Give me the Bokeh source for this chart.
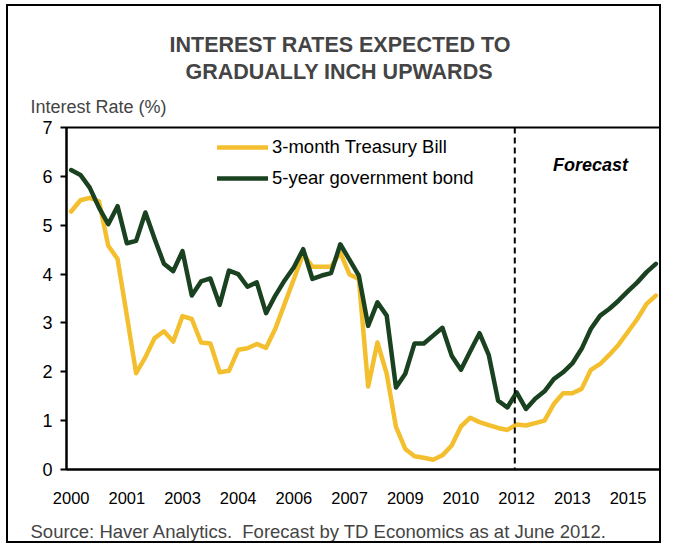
from bokeh.plotting import figure
from bokeh.models import Range1d, FixedTicker, Label, Span, Legend, LegendItem, ColumnDataSource, Title
from bokeh.embed import file_html
from bokeh.resources import INLINE

# ---------------- data (quarterly, 2000Q1 .. 2015Q4) ----------------
years = list(range(2000, 2016))
quarters = [f"{y}Q{q}" for y in years for q in range(1, 5)]

tbill_3m = [5.28, 5.51, 5.56, 5.49, 4.58, 4.31, 3.15, 1.97,
            2.30, 2.69, 2.83, 2.62, 3.14, 3.08, 2.60, 2.58,
            1.99, 2.02, 2.45, 2.48, 2.57, 2.49, 2.88, 3.39,
            3.90, 4.41, 4.15, 4.15, 4.15, 4.44, 3.99, 3.90,
            1.70, 2.60, 1.96, 0.87, 0.42, 0.27, 0.24, 0.20,
            0.29, 0.49, 0.88, 1.06, 0.97, 0.91, 0.85, 0.81,
            0.92, 0.90, 0.95, 1.00, 1.34, 1.56, 1.56, 1.65,
            2.04, 2.16, 2.35, 2.56, 2.82, 3.08, 3.39, 3.56]

bond_5y = [6.13, 6.03, 5.77, 5.36, 5.02, 5.39, 4.63, 4.68,
           5.26, 4.72, 4.21, 4.06, 4.47, 3.56, 3.85, 3.91,
           3.37, 4.07, 4.00, 3.74, 3.83, 3.20, 3.56, 3.87,
           4.14, 4.51, 3.90, 3.97, 4.02, 4.61, 4.29, 3.97,
           2.94, 3.42, 3.15, 1.68, 1.96, 2.58, 2.58, 2.74,
           2.90, 2.33, 2.04, 2.42, 2.79, 2.34, 1.41, 1.27,
           1.58, 1.24, 1.45, 1.60, 1.85, 1.99, 2.17, 2.47,
           2.88, 3.15, 3.29, 3.46, 3.65, 3.83, 4.04, 4.21]

tick_positions = [0, 6, 12, 18, 24, 30, 36, 42, 48, 54, 60]
tick_labels = ["2000", "2001", "2003", "2004", "2006", "2007",
               "2009", "2010", "2012", "2013", "2015"]
y_ticks = [0, 1, 2, 3, 4, 5, 6, 7]
forecast_start = "2012Q1"

series_names = ["3-month Treasury Bill", "5-year government bond"]
series_colors = ["#F4BF2F", "#1A4220"]

title_lines = ["INTEREST RATES EXPECTED TO", "GRADUALLY INCH UPWARDS"]
y_title = "Interest Rate (%)"
source_note = "Source: Haver Analytics.\u00a0 Forecast by TD Economics as at June 2012."

# ---------------- layout constants ----------------
FONT = "Liberation Sans"
ML, MT = 6, 4            # css margins of the figure element
OX, OY = ML + 2, MT + 2  # canvas origin in picture px (2px border)
W, H = 655, 539
FL, FR, FT, FB = 66 - OX, 660 - OX, 127 - OY, 469 - OY   # frame edges, canvas px
X0, X1 = -0.5, len(quarters) - 0.5
Y0, Y1 = 0, 7


def px_x(px):
    c = px - OX
    return X0 + (c - FL) / (FR - FL) * (X1 - X0)


def px_y(py):
    c = py - OY
    return Y1 - (c - FT) / (FB - FT) * (Y1 - Y0)


idx = list(range(len(quarters)))
src = ColumnDataSource(dict(x=idx, q=quarters, tbill=tbill_3m, bond=bond_5y))

p = figure(width=W, height=H, x_range=Range1d(X0, X1), y_range=Range1d(Y0, Y1),
           output_backend="svg", toolbar_location=None,
           min_border_left=FL, min_border_right=W - FR,
           min_border_top=FT, min_border_bottom=H - FB)
p.styles = {"border": "2px solid black", "margin-left": f"{ML}px", "margin-top": f"{MT}px"}
p.background_fill_color = "white"
p.border_fill_color = "white"
p.outline_line_color = "black"
p.outline_line_width = 2
p.xgrid.visible = False
p.ygrid.visible = False

r1 = p.line("x", "tbill", source=src, line_width=4.5, line_color=series_colors[0],
            line_join="round", line_cap="round")
r2 = p.line("x", "bond", source=src, line_width=4.5, line_color=series_colors[1],
            line_join="round", line_cap="round")

# forecast divider
p.add_layout(Span(location=quarters.index(forecast_start) - 0.2, dimension="height",
                  line_color="black", line_width=2, line_dash="6 4"))

# axes
xa = p.xaxis[0]
xa.ticker = FixedTicker(ticks=tick_positions)
xa.major_label_overrides = {t: l for t, l in zip(tick_positions, tick_labels)}
xa.major_tick_out = 0
xa.major_tick_in = 0
xa.minor_tick_out = 0
xa.minor_tick_in = 0
xa.axis_line_width = 2
xa.axis_line_color = "black"
xa.major_label_text_font = FONT
xa.major_label_text_font_size = "16.5px"
xa.major_label_text_color = "black"
xa.major_label_standoff = 22
# thin spacer between tick labels and the source note
xa.axis_label = " "
xa.axis_label_text_font_size = "8px"
xa.axis_label_standoff = 0

ya = p.yaxis[0]
ya.ticker = FixedTicker(ticks=y_ticks)
ya.major_tick_out = 6
ya.major_tick_in = 0
ya.major_tick_line_width = 2
ya.minor_tick_out = 0
ya.minor_tick_in = 0
ya.axis_line_width = 2
ya.axis_line_color = "black"
ya.major_label_text_font = FONT
ya.major_label_text_font_size = "18px"
ya.major_label_text_color = "black"
ya.major_label_standoff = 8

# legend
legend = Legend(items=[LegendItem(label=series_names[0], renderers=[r1]),
                       LegendItem(label=series_names[1], renderers=[r2])],
                location=(217 - 66, 469 - 189), orientation="vertical")
legend.border_line_color = None
legend.background_fill_alpha = 0
legend.padding = 0
legend.margin = 0
legend.spacing = 9
legend.glyph_height = 20
legend.glyph_width = 51
legend.label_height = 20
legend.label_standoff = 4
legend.label_text_font = FONT
legend.label_text_font_size = "18.5px"
legend.label_text_color = "black"
p.add_layout(legend)

# "Forecast" inside frame
p.add_layout(Label(x=px_x(590), y=px_y(164), text="Forecast", text_font=FONT,
                   text_font_size="18px", text_align="center", text_baseline="middle",
                   text_font_style="bold italic", text_color="black"))

# titles in the side panels (stacked outward from the frame)
p.add_layout(Title(text=y_title, align="left", offset=30 - 66, text_font=FONT,
                   text_font_size="18px", text_font_style="normal", standoff=22), "above")
p.add_layout(Title(text=title_lines[1], align="left", offset=185 - 66, text_font=FONT,
                   text_font_size="21.5px", text_font_style="bold", standoff=0), "above")
p.add_layout(Title(text=title_lines[0], align="left", offset=169 - 66, text_font=FONT,
                   text_font_size="21.5px", text_font_style="bold", standoff=2), "above")
p.add_layout(Title(text=source_note, align="left", offset=30 - 66, text_font=FONT,
                   text_font_size="18.5px", text_font_style="normal", standoff=0), "below")

open("out.html", "w").write(file_html(p, INLINE))
